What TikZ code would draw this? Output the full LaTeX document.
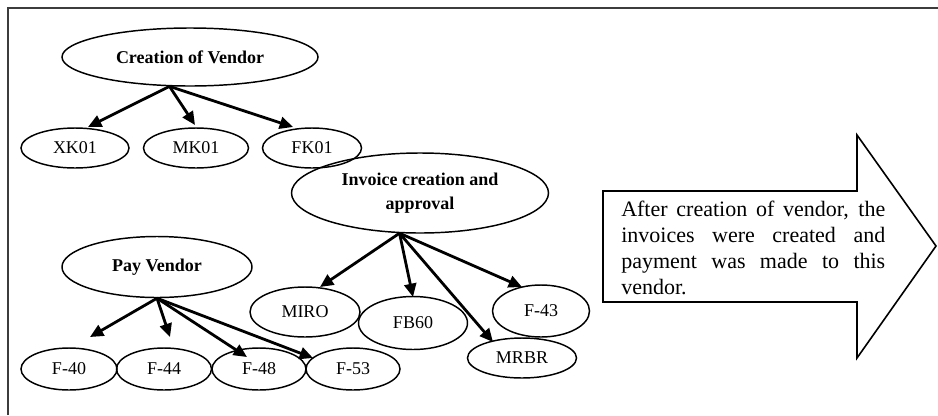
\documentclass[tikz,border=0pt]{standalone}
\usepackage{fontspec}
\setmainfont{Liberation Serif}
\usetikzlibrary{shapes.geometric,arrows.meta}
\definecolor{framegray}{RGB}{60,60,60}
\begin{document}
\begin{tikzpicture}[x=0.75pt,y=-0.75pt,
  ell/.style 2 args={ellipse,draw,line width=1.1pt,inner sep=0pt,
    minimum width=#1*0.75pt,minimum height=#2*0.75pt,
    font=\fontsize{13.5}{16}\selectfont},
  bell/.style 2 args={ell={#1}{#2},font=\fontsize{13.5}{18.5}\selectfont\bfseries,align=center},
  arr/.style={line width=2.1pt,-{Triangle[length=10pt,width=9pt]}},
  framestyle/.style={line width=1.5pt,draw=framegray},
  bigarrow/.style={line width=1.2pt,line join=miter}]
\useasboundingbox (0,0) rectangle (938,415);
% frame (top and left edges only visible)
\draw[framestyle] (8,415) -- (8,8) -- (938,8);

% big arrow with note
\draw[bigarrow] (603,191) -- (857,191) -- (857,135) -- (936,246) -- (857,358) -- (857,302) -- (603,302) -- cycle;
\node[anchor=base west,inner sep=0pt,font=\fontsize{16.5}{19.5}\selectfont] (note) at (621,216)
  {\parbox[t]{198pt}{After creation of vendor, the\linebreak invoices were created and\linebreak payment was made to this\linebreak vendor.}};

% nodes
\node[bell={256}{58}] (cv) at (190,57) {Creation of Vendor};
\node[ell={108}{40}] (xk) at (75,148) {XK01};
\node[ell={105}{40}] (mk) at (196,148) {MK01};
\node[ell={99}{40}] (fk) at (312,148) {FK01};

\node[bell={257}{80}] (inv) at (420,193) {Invoice creation and\\approval};
\node[ell={110}{50}] (miro) at (305,312) {MIRO};
\node[ell={109}{53}] (fb) at (413,323) {FB60};
\node[ell={97}{52}] (f43) at (541,311) {F-43};
\node[ell={109}{40}] (mrbr) at (522,358) {MRBR};

\node[bell={190}{61}] (pay) at (157,267) {Pay Vendor};
\node[ell={96}{42}] (f40) at (69,369) {F-40};
\node[ell={95}{42}] (f44) at (164,369) {F-44};
\node[ell={94}{42}] (f48) at (259,369) {F-48};
\node[ell={94}{42}] (f53) at (353,369) {F-53};

% connectors
\draw[arr] (cv.235) -- ([shift={(13,-21)}]xk.center);
\draw[arr] (cv.235) -- ([shift={(-1,-23)}]mk.center);
\draw[arr] (cv.235) -- ([shift={(-19,-21)}]fk.center);

\draw[arr] (inv.243) -- ([shift={(15,-25)}]miro.center);
\draw[arr] (inv.243) -- ([shift={(0,-26)}]fb.center);
\draw[arr] (inv.243) -- ([shift={(-19,-24)}]f43.center);
\draw[arr] (inv.243) -- ([shift={(-29,-16)}]mrbr.center);

\draw[arr] (pay.south) -- ([shift={(21,-32)}]f40.center);
\draw[arr] (pay.south) -- ([shift={(6,-32)}]f44.center);
\draw[arr] (pay.south) -- ([shift={(-12,-12)}]f48.center);
\draw[arr] (pay.south) -- ([shift={(-40,-11)}]f53.center);
\end{tikzpicture}
\end{document}
